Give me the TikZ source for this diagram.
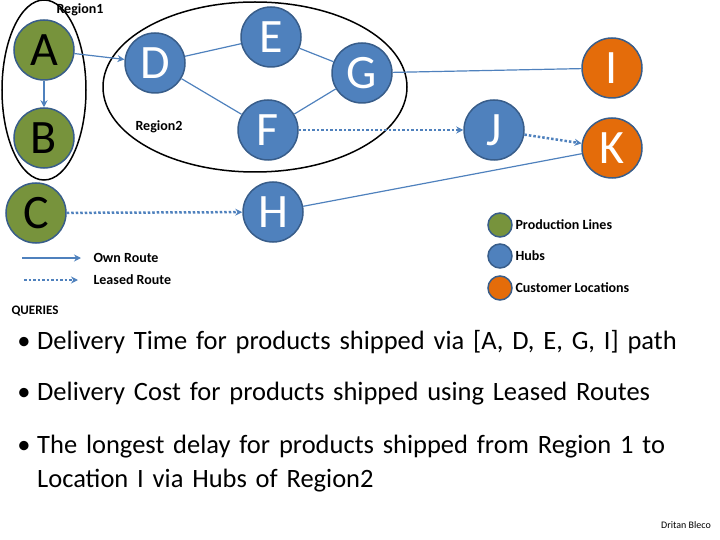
\documentclass[tikz,border=0pt]{standalone}
\usepackage{fontspec}
\setmainfont{Carlito}
\usetikzlibrary{arrows.meta}
\definecolor{prodgreen}{HTML}{77933C}
\definecolor{hubblue}{HTML}{4F81BD}
\definecolor{custorange}{HTML}{E46C0A}
\definecolor{rimblue}{HTML}{385D8A}
\begin{document}
\begin{tikzpicture}[x=1pt,y=-1pt,
  site/.style={circle,draw=rimblue,line width=1.5pt,minimum size=60pt,inner sep=0pt,font=\fontsize{48}{48}\selectfont},
  prod/.style={site,fill=prodgreen,text=black},
  hub/.style={site,fill=hubblue,text=white},
  cust/.style={site,fill=custorange,text=white},
  own/.style={hubblue,line width=1.2pt},
  leased/.style={hubblue,line width=2.5pt,dotted},
  tip/.style={-{Stealth[length=7pt,width=7pt]}},
  key/.style={circle,draw=rimblue,line width=1.5pt,minimum size=24pt,inner sep=0pt},
  keytext/.style={anchor=west,font=\bfseries\fontsize{14}{14}\selectfont},
  query/.style={anchor=base west,text width=680pt,align=left,inner sep=0pt,font=\fontsize{26.5}{34}\selectfont}]
\useasboundingbox (0,0) rectangle (720,540);
  % regions
  \draw[line width=1.5pt] (44,90) ellipse (42 and 90);
  \draw[line width=1.5pt] (255,87) ellipse (152 and 85);
  \node[font=\bfseries\fontsize{14}{14}\selectfont] (reg1) at (80,10) {Region1};
  \node[font=\bfseries\fontsize{14}{14}\selectfont] (reg2) at (159,127) {Region2};
  % sites
  \node[prod] (A) at (44,50) {A};
  \node[prod] (B) at (44,138) {B};
  \node[prod] (C) at (36,213) {C};
  \node[hub] (D) at (155,63) {D};
  \node[hub] (E) at (271,37) {E};
  \node[hub] (F) at (268,130) {F};
  \node[hub] (G) at (362,73) {G};
  \node[hub] (H) at (273,212) {H};
  \node[hub] (J) at (494,130) {J};
  \node[cust] (I) at (612,68) {I};
  \node[cust] (K) at (612,148) {K};
  % routes
  \draw[own,tip] (A) -- (D);
  \draw[own,tip] (A) -- (B);
  \draw[own] (D) -- (E);
  \draw[own] (D) -- (F);
  \draw[own] (E) -- (G);
  \draw[own] (F) -- (G);
  \draw[own] (G) -- (I);
  \draw[own] (H) -- (K);
  \draw[leased,tip] (F) -- (J);
  \draw[leased,tip] (J) -- (K);
  \draw[leased,tip] (C) -- (H);
  % route legend
  \coordinate (o1) at (22,258); \coordinate (o2) at (81,258);
  \coordinate (l1) at (24,280); \coordinate (l2) at (78,280);
  \draw[own,tip] (o1) -- (o2);
  \draw[leased,tip] (l1) -- (l2);
  \node[keytext] (ownlbl) at (90,258) {Own Route};
  \node[keytext] (leaselbl) at (90,280) {Leased Route};
  % site legend
  \node[key,fill=prodgreen] (k1) at (500,225) {};
  \node[key,fill=hubblue] (k2) at (500,256) {};
  \node[key,fill=custorange] (k3) at (500,288) {};
  \node[keytext] at (512,225) {Production Lines};
  \node[keytext] at (512,256) {Hubs};
  \node[keytext] at (512,288) {Customer Locations};
  % queries
  \node[anchor=west,font=\bfseries\fontsize{13}{13}\selectfont] (qry) at (8,311) {QUERIES};
  \foreach \y/\txt in {349/{Delivery Time for products shipped via [A, D, E, G, I] path},
                       400/{Delivery Cost for products shipped using Leased Routes},
                       453/{The longest delay for products shipped from Region 1 to\\Location I via Hubs of Region2}}
  {
    \node[anchor=base,font=\fontsize{26.5}{26.5}\selectfont] at (24,\y) {\textbullet};
    \node[query] at (37,\y) {\txt};
  }
  \node[font=\fontsize{10}{10}\selectfont] (auth) at (686,525) {Dritan Bleco};
\end{tikzpicture}
\end{document}
